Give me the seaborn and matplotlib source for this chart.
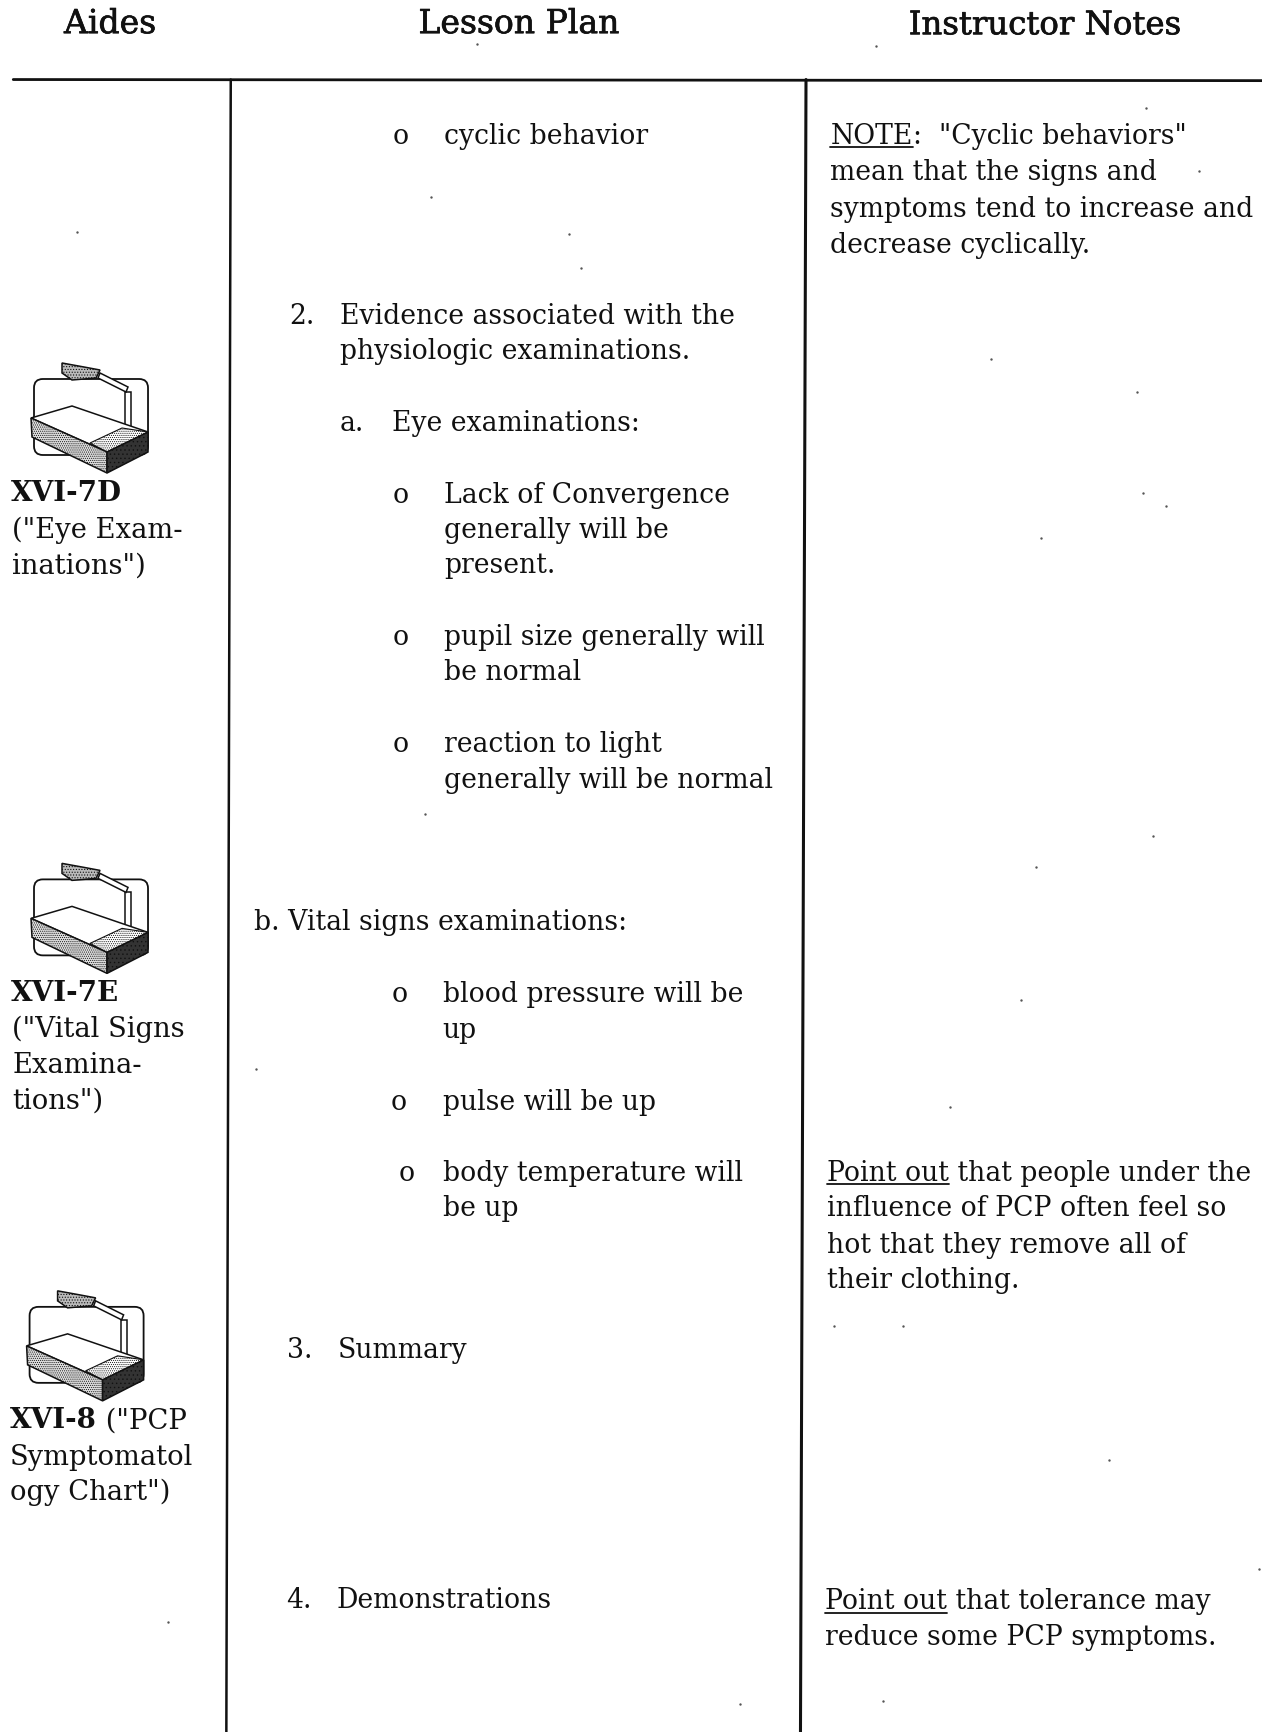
import matplotlib
matplotlib.use("Agg")
import matplotlib.pyplot as plt
from matplotlib.patches import Polygon, FancyBboxPatch
import matplotlib.patheffects as pe
import pandas as pd
import seaborn as sns

# page is laid out in the coordinates of the 1143x1568 preview
PAGE_W = 1143
PAGE_H = 1568

headers = ["Aides", "Lesson Plan", "Instructor Notes"]
header_x = [58, 379, 823]
header_y = [21, 21, 22]
header_size = [23.8, 23.8, 23.3]

aides_bold = ["XVI-7D", "XVI-7E", "XVI-8"]
aides_bold_x = [10, 10, 9]
aides_bold_y = [445, 897, 1284]

aides_text = ['("Eye Exam-', 'inations")', '("Vital Signs', "Examina-", 'tions")',
              "Symptomatol", 'ogy Chart")']
aides_text_x = [11, 11, 11, 11, 11, 9, 9]
aides_text_y = [478, 510, 930, 962, 995, 1317, 1349]

lesson_text = [
    "o", "cyclic behavior",
    "2.", "Evidence associated with the", "physiologic examinations.",
    "a.", "Eye examinations:",
    "o", "Lack of Convergence", "generally will be", "present.",
    "o", "pupil size generally will", "be normal",
    "o", "reaction to light", "generally will be normal",
    "b. Vital signs examinations:",
    "o", "blood pressure will be", "up",
    "o", "pulse will be up",
    "o", "body temperature will", "be up",
    "3.", "Summary",
    "4.", "Demonstrations",
]
lesson_x = [356, 402, 262, 308, 308, 308, 355, 356, 402, 402, 402, 356, 402, 402,
            356, 402, 402, 230, 355, 401, 401, 354, 401, 361, 401, 401, 260, 306, 259, 305]
lesson_y = [121, 121, 284, 284, 316, 381, 381, 446, 446, 478, 510, 575, 575, 607,
            672, 672, 704, 833, 898, 898, 931, 996, 996, 1060, 1060, 1092, 1220, 1220, 1447, 1447]

notes_text = ["mean that the signs and", "symptoms tend to increase and", "decrease cyclically.",
              "influence of PCP often feel so", "hot that they remove all of", "their clothing.",
              "reduce some PCP symptoms."]
notes_x = [752, 752, 752, 749, 749, 749, 747]
notes_y = [154, 187, 220, 1092, 1125, 1157, 1480]

# (underlined words, rest of the line)
notes_under = ["NOTE", "Point out", "Point out"]
notes_after = [':  "Cyclic behaviors"', " that people under the", " that tolerance may"]
notes_under_x = [752, 749, 747]
notes_under_y = [121, 1060, 1448]

rule_x = [12, 1143]
rule_y = [72, 73]
col1_x = [209, 205]
col2_x = [730, 725]
col_y = [72, 1568]

speck_x = [432, 793, 390, 515, 526, 1086, 898, 1030, 1035, 1056, 943, 1044, 938, 925,
           860, 755, 818, 1004, 1140, 670, 800, 232, 385, 152, 70, 1038]
speck_y = [40, 42, 178, 212, 243, 155, 325, 355, 446, 458, 487, 757, 785, 905,
           1002, 1200, 1200, 1322, 1420, 1543, 1540, 968, 737, 1468, 210, 98]

icon_dx = [0, 0, -4]
icon_dy = [0, 453, 840]

SERIF = "DejaVu Serif"
BODY = 19.2
AIDES = 19.7
BASE = 9  # centre of the line to baseline


def put(ax, x, y, s, **kw):
    return ax.text(x, y + BASE, s, family=SERIF, fontsize=kw.pop("fontsize", BODY),
                   color="#111111", va="baseline", ha="left", **kw)


def draw_icon(ax, dx, dy):
    # overhead projector clip art
    def P(pts):
        return [(x / 1.104 + dx, y / 1.1046 + dy) for x, y in pts]

    x0, y0 = P([(34, 379)])[0]
    x1, y1 = P([(148, 455)])[0]
    ax.add_patch(FancyBboxPatch((x0 + 8, y0 + 8), x1 - x0 - 16, y1 - y0 - 16,
                                boxstyle="round,pad=8", fc="white", ec="#111111", lw=1.3, zorder=3))
    # post and arm
    ax.add_patch(Polygon(P([(125, 392), (131, 392), (131, 428), (125, 428)]),
                         fc="white", ec="#111111", lw=1.1, zorder=4))
    ax.add_patch(Polygon(P([(100, 373), (128, 387), (126, 392), (98, 378)]),
                         fc="white", ec="#111111", lw=1.1, zorder=4))
    # head
    ax.add_patch(Polygon(P([(62, 363), (84, 367), (100, 370), (96, 378), (72, 380), (62, 373)]),
                         fc="#bbbbbb", ec="#111111", lw=1.1, hatch="......", zorder=4))
    # body
    ax.add_patch(Polygon(P([(31, 418), (72, 406), (148, 432), (107, 452)]),
                         fc="white", ec="#111111", lw=1.1, zorder=5))
    ax.add_patch(Polygon(P([(90, 443), (122, 428), (148, 432), (107, 452)]),
                         fc="white", ec="#111111", lw=0.8, hatch="........", zorder=5))
    ax.add_patch(Polygon(P([(31, 418), (107, 452), (107, 473), (32, 437)]),
                         fc="#dddddd", ec="#111111", lw=1.1, hatch="........", zorder=5))
    ax.add_patch(Polygon(P([(107, 452), (148, 432), (148, 452), (107, 473)]),
                         fc="#333333", ec="#111111", lw=1.1, hatch="....", zorder=5))


sns.set_theme(style="white")
plt.rcParams["hatch.linewidth"] = 0.5
fig, ax = plt.subplots(figsize=(12.62, 17.32), dpi=100)
ax.set_position([0, 0, 1, 1])

# table rules
rules = pd.DataFrame({
    "x": rule_x + col1_x + col2_x,
    "y": rule_y + col_y + col_y,
    "rule": ["top"] * 2 + ["aides"] * 2 + ["notes"] * 2,
})
sns.lineplot(data=rules[rules.rule == "top"], x="x", y="y", color="#111111", lw=2.0, ax=ax)
sns.lineplot(data=rules[rules.rule == "aides"], x="x", y="y", color="#111111", lw=1.8,
             orient="y", ax=ax)
sns.lineplot(data=rules[rules.rule == "notes"], x="x", y="y", color="#111111", lw=2.2,
             orient="y", ax=ax)
sns.scatterplot(x=speck_x, y=speck_y, s=3, color="#555555", linewidth=0, ax=ax)

ax.set_xlim(0, PAGE_W)
ax.set_ylim(PAGE_H, 0)
ax.axis("off")

for s, x, y, size in zip(headers, header_x, header_y, header_size):
    t = put(ax, x, y, s, fontsize=size)
    t.set_path_effects([pe.withStroke(linewidth=0.5, foreground="#111111")])

bold_labels = []
for s, x, y in zip(aides_bold, aides_bold_x, aides_bold_y):
    bold_labels.append(put(ax, x, y, s, fontweight="bold", fontsize=20))
for s, x, y in zip(aides_text, aides_text_x, aides_text_y):
    put(ax, x, y, s, fontsize=AIDES)

for s, x, y in zip(lesson_text, lesson_x, lesson_y):
    put(ax, x, y, s)

for s, x, y in zip(notes_text, notes_x, notes_y):
    put(ax, x, y, s)

fig.canvas.draw()
renderer = fig.canvas.get_renderer()
inv = ax.transData.inverted()

# underlined lead-in words, the rest of the line starts where they end
for u, rest, x, y in zip(notes_under, notes_after, notes_under_x, notes_under_y):
    t = put(ax, x, y, u)
    end = inv.transform(t.get_window_extent(renderer).get_points())[1][0]
    ax.plot([x, end], [y + BASE + 3, y + BASE + 3], color="#111111", lw=1.3)
    put(ax, end, y, rest)

# the bold XVI-8 label goes on with plain text
end = inv.transform(bold_labels[2].get_window_extent(renderer).get_points())[1][0]
put(ax, end, aides_bold_y[2], ' ("PCP', fontsize=AIDES)

for dx, dy in zip(icon_dx, icon_dy):
    draw_icon(ax, dx, dy)

fig.savefig("out.png", dpi=100)
